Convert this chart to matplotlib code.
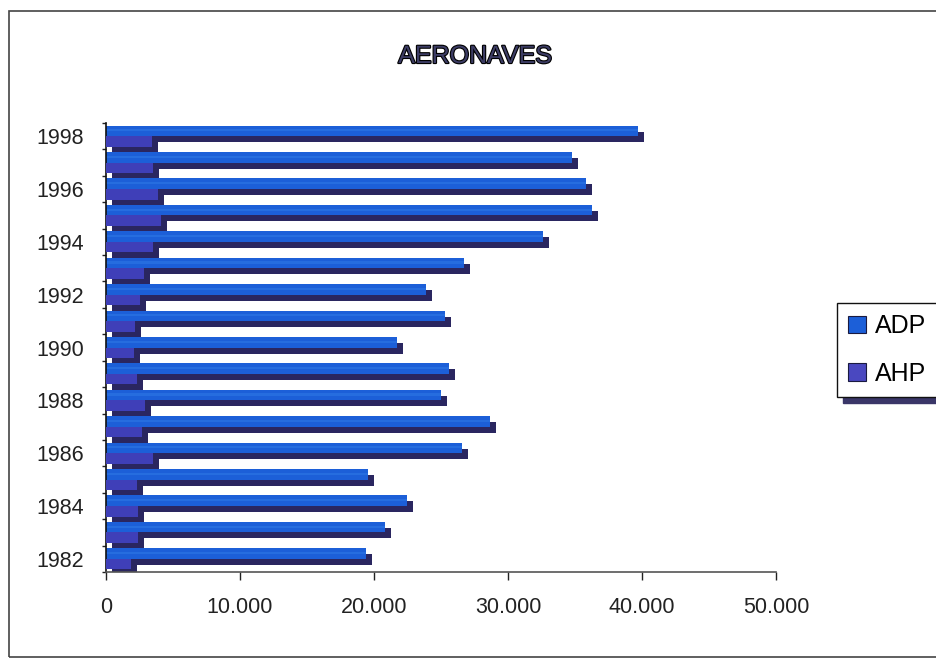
import matplotlib
matplotlib.use('Agg')
import matplotlib.pyplot as plt
import matplotlib.transforms as mtrans
import matplotlib.patheffects as pe
from matplotlib.patches import Patch, Rectangle
from matplotlib.ticker import FuncFormatter
import numpy as np

# ---- data ----
years = list(range(1982, 1999))
adp = [19400, 20800, 22450, 19550, 26600, 28650, 25000, 25600, 21700,
       25300, 23900, 26700, 32600, 36300, 35800, 34800, 39700]
ahp = [1900, 2400, 2400, 2300, 3500, 2700, 2900, 2300, 2100,
       2200, 2500, 2800, 3500, 4100, 3900, 3500, 3400]
series_names = ['ADP', 'AHP']
x_ticks = [0, 10000, 20000, 30000, 40000, 50000]
title = 'AERONAVES'

FONT = ['Liberation Sans', 'DejaVu Sans']
plt.rcParams['font.family'] = FONT

c_adp = '#1c5fd8'
c_adp_hi = '#3f8ff0'
c_ahp = '#3f3fb8'
c_shadow = '#2a2660'

fig = plt.figure(figsize=(9.37, 6.64), dpi=100)
ax = fig.add_axes([106/937, 92/664, 670/937, 449/664])

y = np.arange(len(years))
h = 0.4
shadow_tr = ax.transData + mtrans.ScaledTranslation(6/100, -6/100, fig.dpi_scale_trans)

ax.barh(y + 0.2, adp, height=h, color=c_shadow, transform=shadow_tr, zorder=1)
ax.barh(y - 0.2, ahp, height=h, color=c_shadow, transform=shadow_tr, zorder=1)
ax.barh(y + 0.2, adp, height=h, color=c_adp, zorder=2)
ax.barh(y + 0.22, adp, height=0.08, color=c_adp_hi, alpha=0.3, zorder=2.5, linewidth=0)
ax.barh(y - 0.2, ahp, height=h, color=c_ahp, zorder=3)

ax.set_xlim(0, 50000)
ax.set_ylim(-0.5, len(years) - 0.5)

ax.set_xticks(x_ticks)
ax.xaxis.set_major_formatter(FuncFormatter(lambda v, p: f"{int(v):,}".replace(',', '.')))
ax.set_yticks(y[::2])
ax.set_yticklabels([str(v) for v in years[::2]])
ax.set_yticks(np.arange(-0.5, len(years), 1), minor=True)

ax.tick_params(axis='x', length=6, width=1, pad=12, labelsize=15.5, colors='#222222')
ax.tick_params(axis='y', which='major', length=0, pad=16, labelsize=15.5, colors='#222222')
ax.tick_params(axis='y', which='minor', length=3, width=1, direction='out', color='#222222')

for s in ['top', 'right']:
    ax.spines[s].set_visible(False)
ax.spines['left'].set_color('#111111')
ax.spines['bottom'].set_color('#555555')
ax.spines['left'].set_linewidth(1.2)
ax.spines['bottom'].set_linewidth(1.2)

handles = [Patch(facecolor=c_adp, edgecolor='#1a1a40', linewidth=0.8),
           Patch(facecolor='#4a48c0', edgecolor='#1a1a40', linewidth=0.8)]
leg = ax.legend(handles, series_names, loc='center left',
                bbox_to_anchor=(837/937, 1 - 350/664), bbox_transform=fig.transFigure,
                frameon=True, fancybox=False,
                shadow={'ox': 4, 'oy': -4, 'color': '#3a3668', 'alpha': 1},
                fontsize=18, handlelength=0.7, handleheight=0.7,
                handletextpad=0.35, labelspacing=0.95, borderpad=0.45, borderaxespad=0)
leg.get_frame().set_edgecolor('#111111')
leg.get_frame().set_linewidth(1.0)

fig.text(475/937, 1 - 56/664, title, ha='center', va='center', fontsize=18,
         color='#3c3c64', path_effects=[pe.withStroke(linewidth=1.6, foreground='black')])

fig.add_artist(Rectangle((9/937, 7/664), 1.0, (1 - 11/664) - 7/664,
                         transform=fig.transFigure, fill=False,
                         edgecolor='#444444', linewidth=1.2))

fig.savefig('out.png', dpi=100)
